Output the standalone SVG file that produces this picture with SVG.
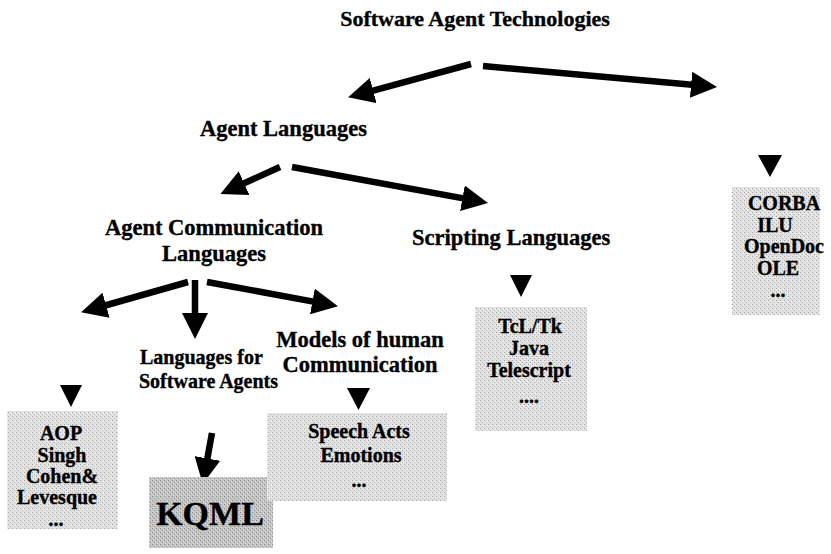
<svg xmlns="http://www.w3.org/2000/svg" width="831" height="554" viewBox="0 0 831 554">
  <style>
    text { font-family: "Liberation Serif", "Times New Roman", serif; font-weight: bold; fill: #000; stroke: #000; stroke-width: 0.35px; }
    .h1 { font-size: 22px; }
    .h2 { font-size: 22.5px; }
    .h3 { font-size: 20px; }
    .item { font-size: 20px; text-anchor: middle; }
    .mid { text-anchor: middle; }
    .shaft { stroke: #000; stroke-width: 6.5; fill: none; }
    .tri { fill: #000; }
    .box { fill: url(#dither); }
    .box-dark { fill: url(#dither-dark); }
  </style>
  <defs>
    <!-- head of the thick connector arrows; the shaft stops at its base -->
    <marker id="head" markerUnits="userSpaceOnUse" markerWidth="26" markerHeight="26" refX="1" refY="13" orient="auto">
      <path d="M0,0 L26,13 L0,26 z" fill="#000"/>
    </marker>
    <!-- light stippled fill of the list boxes -->
    <pattern id="dither" width="4" height="4" patternUnits="userSpaceOnUse">
      <rect width="4" height="4" fill="#e2e2e2"/>
      <rect x="0" y="0" width="1" height="1" fill="#a4a4a4"/>
      <rect x="2" y="2" width="1" height="1" fill="#b0b0b0"/>
      <rect x="3" y="1" width="1" height="1" fill="#f4f4f4"/>
    </pattern>
    <pattern id="dither-dark" width="4" height="4" patternUnits="userSpaceOnUse">
      <rect width="4" height="4" fill="#c4c4c4"/>
      <rect x="0" y="0" width="1" height="1" fill="#888"/>
      <rect x="2" y="2" width="1" height="1" fill="#949494"/>
      <rect x="1" y="3" width="1" height="1" fill="#e0e0e0"/>
      <rect x="3" y="1" width="1" height="1" fill="#dcdcdc"/>
    </pattern>
  </defs>

  <g id="connectors">
    <line class="shaft" x1="471" y1="64" x2="372.2" y2="90.8" marker-end="url(#head)"/>
    <line class="shaft" x1="483" y1="66" x2="692.1" y2="84.8" marker-end="url(#head)"/>
    <line class="shaft" x1="280" y1="167" x2="243.2" y2="183.6" marker-end="url(#head)"/>
    <line class="shaft" x1="292" y1="167" x2="463.4" y2="198.4" marker-end="url(#head)"/>
    <line class="shaft" x1="188" y1="282" x2="105.1" y2="305.5" marker-end="url(#head)"/>
    <line class="shaft" x1="195" y1="280" x2="195" y2="314" marker-end="url(#head)"/>
    <line class="shaft" x1="207" y1="282" x2="313.4" y2="301.6" marker-end="url(#head)"/>
    <line class="shaft" x1="212" y1="433" x2="207.2" y2="459.4" marker-end="url(#head)"/>
    <!-- small down triangles above the lists -->
    <polygon class="tri" points="758,155 782,155 770,177"/>
    <polygon class="tri" points="510,275 532,275 521,297"/>
    <polygon class="tri" points="347,388 370,388 358.5,410"/>
    <polygon class="tri" points="60,385 82,385 71,407"/>
  </g>

  <g id="software-agent-technologies">
    <text class="h1 mid" x="475" y="26">Software Agent Technologies</text>
  </g>

  <g id="agent-languages">
    <text class="h2" x="200" y="136">Agent Languages</text>
  </g>

  <g id="agent-communication-languages">
    <text class="h2 mid" x="214" y="235">Agent Communication</text>
    <text class="h2 mid" x="214" y="261">Languages</text>
  </g>

  <g id="scripting-languages">
    <text class="h2" x="412" y="245">Scripting Languages</text>
  </g>

  <g id="languages-for-software-agents">
    <text class="h3" x="140" y="364">Languages for</text>
    <text class="h3" x="139" y="388">Software Agents</text>
  </g>

  <g id="models-of-human-communication">
    <text class="h2 mid" x="360" y="347">Models of human</text>
    <text class="h2 mid" x="360" y="372">Communication</text>
  </g>

  <g id="list-aop">
    <rect class="box" x="7" y="411" width="111" height="118"/>
    <text class="item" x="61" y="440">AOP</text>
    <text class="item" x="62" y="462">Singh</text>
    <text class="item" x="62" y="483">Cohen&amp;</text>
    <text class="item" x="57" y="504">Levesque</text>
    <text class="item" x="56" y="526">...</text>
  </g>

  <g id="list-kqml">
    <rect class="box-dark" x="149" y="477" width="124" height="71"/>
    <text class="mid" x="210" y="525" style="font-size:34px">KQML</text>
  </g>

  <g id="list-speech">
    <rect class="box" x="267" y="413" width="180" height="88"/>
    <text class="item" x="359" y="438">Speech Acts</text>
    <text class="item" x="361" y="462">Emotions</text>
    <text class="item" x="359" y="487">...</text>
  </g>

  <g id="list-scripting">
    <rect class="box" x="475" y="307" width="112" height="124"/>
    <text class="item" x="530" y="333">TcL/Tk</text>
    <text class="item" x="529" y="355">Java</text>
    <text class="item" x="529" y="377">Telescript</text>
    <text class="item" x="529" y="403">....</text>
  </g>

  <g id="list-corba">
    <rect class="box" x="732" y="187" width="88" height="128"/>
    <text class="item" x="784" y="210">CORBA</text>
    <text class="item" x="775" y="232">ILU</text>
    <text class="item" x="784" y="253">OpenDoc</text>
    <text class="item" x="778" y="275">OLE</text>
    <text class="item" x="778" y="297">...</text>
  </g>
</svg>
